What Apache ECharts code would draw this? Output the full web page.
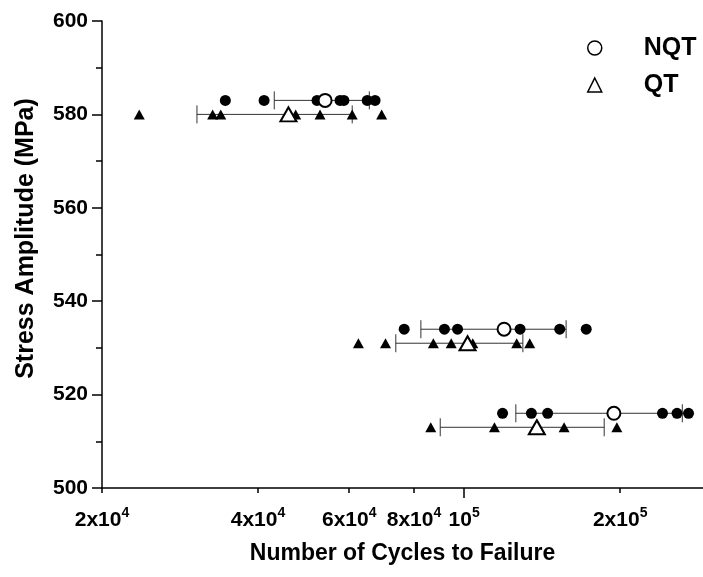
<!DOCTYPE html>
<html>
<head>
<meta charset="utf-8">
<script src="https://cdn.jsdelivr.net/npm/echarts@6/dist/echarts.min.js"></script>
<style>
  html, body { margin: 0; padding: 0; background: #fff; }
  #chart { width: 703px; height: 577px; }
</style>
</head>
<body>
<div id="chart"></div>
<script>
// stress levels (MPa)
const nqtStress = [583, 534, 516];
const qtStress = [580, 531, 513];

// individual specimen lives (cycles), one array per stress level
const nqtLives = [
    [34600, 41100, 52000, 57600, 58600, 65000, 67300],
    [76600, 91600, 97100, 128200, 152900, 172000],
    [118600, 134800, 144900, 241400, 257500, 271000]
];
const qtLives = [
    [23600, 32700, 33900, 47300, 52700, 60800, 69300],
    [62500, 70500, 87200, 94400, 103900, 126300, 133800],
    [86200, 114400, 155900, 197100]
];

// mean life and scatter band
const nqtMean = [53900, 119400, 194500];
const nqtLow = [43000, 82500, 125800];
const nqtHigh = [65600, 157300, 263600];
const qtMean = [45800, 101500, 138100];
const qtLow = [30500, 73800, 89900];
const qtHigh = [60800, 129800, 186300];

// x tick labels
const xTickValues = [20000, 40000, 60000, 80000, 100000, 200000];
const xTickBase = ['2x10', '4x10', '6x10', '8x10', '10', '2x10'];
const xTickExp = ['4', '4', '4', '4', '5', '5'];

const FONT = '"Liberation Sans", Arial, Helvetica, sans-serif';

const flat = (lives, stress) => {
    const out = [];
    lives.forEach((row, i) => row.forEach(v => out.push([v, stress[i]])));
    return out;
};
const pairs = (xs, ys) => xs.map((v, i) => [v, ys[i]]);
const bands = (lo, hi, ys) => lo.map((v, i) => [v, hi[i], ys[i]]);

function renderBand(params, api) {
    const a = api.coord([api.value(0), api.value(2)]);
    const b = api.coord([api.value(1), api.value(2)]);
    const h = 9;
    const st = { stroke: '#333', lineWidth: 1 };
    return {
        type: 'group',
        children: [
            { type: 'line', shape: { x1: a[0], y1: a[1], x2: b[0], y2: b[1] }, style: st },
            { type: 'line', shape: { x1: a[0], y1: a[1] - h, x2: a[0], y2: a[1] + h }, style: st },
            { type: 'line', shape: { x1: b[0], y1: b[1] - h, x2: b[0], y2: b[1] + h }, style: st }
        ]
    };
}

const chart = echarts.init(document.getElementById('chart'));

const option = {
    animation: false,
    textStyle: { fontFamily: FONT },
    grid: { left: 102, right: 0, top: 21, bottom: 89 },
    legend: {
        data: ['NQT', 'QT'],
        orient: 'vertical',
        left: 587,
        top: 35,
        padding: 0,
        itemWidth: 14,
        itemHeight: 14,
        itemGap: 11,
        itemStyle: { borderWidth: 1.5 },
        textStyle: {
            fontFamily: FONT, fontWeight: 'bold', fontSize: 25, color: '#000',
            padding: [0, 0, 0, 37], lineHeight: 26
        }
    },
    xAxis: [{
        type: 'log',
        min: 20000,
        max: 289000,
        splitLine: { show: false },
        axisLine: { lineStyle: { color: '#000', width: 1.5 } },
        axisTick: { customValues: [20000, 40000, 60000, 80000, 200000], length: 5, lineStyle: { color: '#000', width: 1.5 } },
        minorTick: { show: false },
        axisLabel: {
            customValues: xTickValues,
            margin: 18,
            color: '#000',
            formatter: function (v) {
                let idx = 0;
                xTickValues.forEach((t, i) => { if (Math.abs(t - v) / t < 0.01) idx = i; });
                return '{b|' + xTickBase[idx] + '}{s|' + xTickExp[idx] + '}';
            },
            rich: {
                b: { fontFamily: FONT, fontWeight: 'bold', fontSize: 21, color: '#000' },
                s: { fontFamily: FONT, fontWeight: 'bold', fontSize: 14, color: '#000', padding: [0, 0, 15, 0] }
            }
        },
        name: 'Number of Cycles to Failure',
        nameLocation: 'middle',
        nameGap: 54,
        nameTextStyle: { fontFamily: FONT, fontWeight: 'bold', fontSize: 23, color: '#000' }
    }, {
        // long tick at the decade
        type: 'log',
        min: 20000,
        max: 289000,
        position: 'bottom',
        splitLine: { show: false },
        axisLine: { show: false },
        axisLabel: { show: false },
        axisTick: { customValues: [100000], length: 10, lineStyle: { color: '#000', width: 1.5 } }
    }],
    yAxis: {
        type: 'value',
        min: 500,
        max: 600,
        interval: 20,
        splitLine: { show: false },
        axisLine: { show: true, lineStyle: { color: '#000', width: 1.5 } },
        axisTick: { show: true, length: 10, lineStyle: { color: '#000', width: 1.5 } },
        minorTick: { show: true, splitNumber: 2, length: 6, lineStyle: { color: '#000', width: 1.5 } },
        axisLabel: { margin: 14, color: '#000', fontFamily: FONT, fontWeight: 'bold', fontSize: 21 },
        name: 'Stress Amplitude (MPa)',
        nameLocation: 'middle',
        nameGap: 63,
        nameTextStyle: { fontFamily: FONT, fontWeight: 'bold', fontSize: 25, color: '#000', padding: [0, 0, 0, 32] }
    },
    series: [
        {
            type: 'custom', renderItem: renderBand, data: bands(nqtLow, nqtHigh, nqtStress),
            encode: { x: [0, 1], y: 2 }, z: 1, silent: true
        },
        {
            type: 'custom', renderItem: renderBand, data: bands(qtLow, qtHigh, qtStress),
            encode: { x: [0, 1], y: 2 }, z: 1, silent: true
        },
        {
            type: 'scatter', data: flat(nqtLives, nqtStress), symbol: 'circle', symbolSize: 11,
            itemStyle: { color: '#000', opacity: 1 }, z: 2
        },
        {
            type: 'scatter', data: flat(qtLives, qtStress), symbol: 'triangle', symbolSize: [11, 10],
            itemStyle: { color: '#000', opacity: 1 }, z: 2
        },
        {
            name: 'NQT', type: 'scatter', data: pairs(nqtMean, nqtStress), symbol: 'circle', symbolSize: 13,
            itemStyle: { color: '#fff', borderColor: '#000', borderWidth: 2, opacity: 1 }, z: 3
        },
        {
            name: 'QT', type: 'scatter', data: pairs(qtMean, qtStress), symbol: 'triangle', symbolSize: [16, 14],
            itemStyle: { color: '#fff', borderColor: '#000', borderWidth: 2, opacity: 1 }, z: 3
        }
    ]
};

chart.setOption(option);
</script>
</body>
</html>
